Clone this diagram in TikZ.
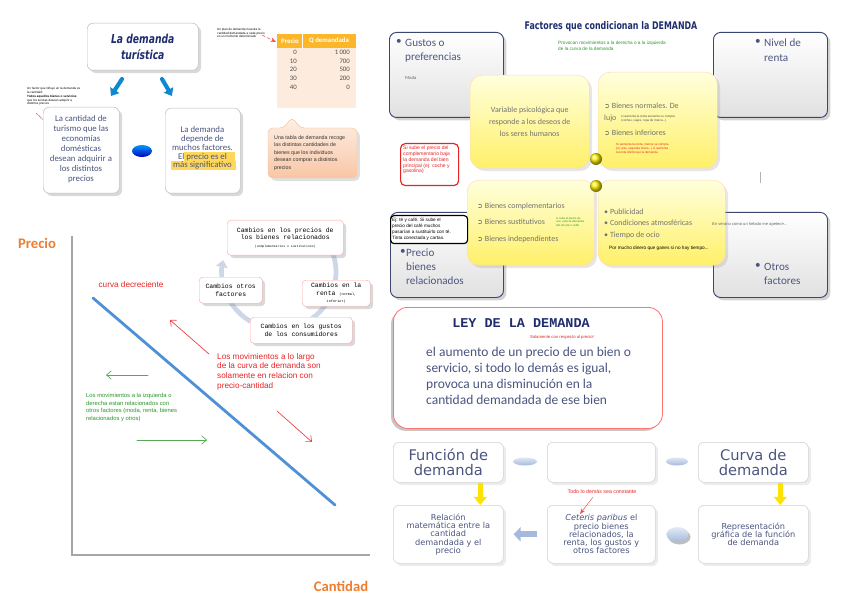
\documentclass[tikz,border=0pt]{standalone}
\usepackage{fontspec}
\setmainfont{Carlito}
\newfontfamily\arialf{Liberation Sans}
\newfontfamily\monof{Liberation Mono}
\newfontfamily\dejaf{DejaVu Sans}
\usepackage{tkz-euclide}
\usetikzlibrary{arrows.meta,shadows,positioning}

\newcommand\fsz[2]{\fontsize{#1}{#2}\selectfont}
\newcommand\arrbul{{\dejaf\fsz{6}{7}➲}}

\definecolor{navyt}{RGB}{31,45,110}
\definecolor{slate}{RGB}{75,85,128}
\definecolor{orangeT}{RGB}{237,125,49}
\definecolor{curveblue}{RGB}{79,145,214}
\definecolor{redT}{RGB}{232,35,35}
\definecolor{greenT}{RGB}{40,150,40}
\definecolor{tabhead}{RGB}{251,183,40}
\definecolor{tabbody}{RGB}{253,236,222}
\definecolor{peachtop}{RGB}{253,240,230}
\definecolor{peachbot}{RGB}{249,198,165}
\definecolor{yeltop}{RGB}{255,255,220}
\definecolor{yelbot}{RGB}{255,240,105}
\definecolor{ringc}{RGB}{205,215,232}
\definecolor{pillc}{RGB}{165,185,220}
\definecolor{boxedge}{RGB}{60,70,115}
\definecolor{hlyel}{RGB}{255,215,90}

\tikzset{
	boxsize/.style 2 args={minimum width=#1*0.03cm,minimum height=#2*0.03cm},
	wbox/.style={draw=gray!55,rounded corners=5pt,fill=white,anchor=north west,inner sep=0pt,drop shadow={opacity=.3}},
	cycbox/.style={draw=red!35,rounded corners=3pt,fill=white,anchor=north west,inner sep=0pt,drop shadow={opacity=.3}},
	fbox/.style={draw=boxedge,line width=.8pt,rounded corners=6pt,top color=white,bottom color=black!12,anchor=north west,inner sep=0pt,drop shadow={opacity=.35}},
	ybox/.style={draw=orange!30,line width=.4pt,rounded corners=10pt,top color=yeltop,bottom color=yelbot,anchor=north west,inner sep=0pt,drop shadow={opacity=.2}},
	bbox/.style={draw=gray!35,line width=.5pt,rounded corners=5pt,fill=white,anchor=north west,inner sep=0pt,drop shadow={opacity=.15}},
	bultxt/.style={font=\fsz{9.5}{12},text=slate,anchor=north west,align=left,inner sep=0pt},
	ytxt/.style={font=\fsz{6.8}{10},text=black!55,inner sep=0pt},
	redarr/.style={draw=redT!85,line width=.6pt,-{Straight Barb[length=4pt,width=7pt]}},
	greenarr/.style={draw=greenT!80,line width=.6pt,-{Straight Barb[length=4pt,width=7pt]}},
	redthin/.style={draw=redT!80,line width=.4pt,->,>=Stealth},
	bluearr/.style={draw=cyan!70!blue,line width=3.5pt,-{Triangle[width=9pt,length=6pt]}},
	yelarr/.style={draw=yellow!85!orange,line width=4.5pt,-{Triangle[width=11pt,length=7pt]}},
	gaparr/.style={draw=pillc,line width=5pt,-{Triangle[width=12pt,length=6pt]}}
}

\begin{document}
\begin{tikzpicture}[x=0.03cm,y=-0.03cm]
	\useasboundingbox (0,0) rectangle (848,599);

	\node[wbox,boxsize={111}{47}] (turbox) at (87,23) {};
	\node[font=\dejaf\bfseries\itshape\fsz{10.5}{14},text=navyt,align=center,xscale=.75] (turtxt) at (turbox.center) {La demanda\\turística};

	\tkzDefPoint(122,79){ba1s} \tkzDefPoint(111,96){ba1e}
	\tkzDefPoint(162,79){ba2s} \tkzDefPoint(172,96){ba2e}
	\tkzDrawSegments[bluearr](ba1s,ba1e ba2s,ba2e)

	\node[anchor=north west,font=\arialf\fsz{2.6}{3.3},align=left,inner sep=0] (nota1) at (27,87) {Un factor que influye en la demanda es\\la cantidad:\\\textbf{Todos aquellos bienes o servicios}\\que los turistas desean adquirir a\\distintos precios};
	\tkzDefPoint(36,113){ra0s} \tkzDefPoint(52,128){ra0e}
	\tkzDrawSegment[redthin](ra0s,ra0e)

	\node[wbox,boxsize={76}{86}] (cantbox) at (43,107) {};
	\node[font=\fsz{7.5}{8.6},text=slate,align=center] (canttxt) at (81,149) {La cantidad de\\turismo que las\\economías\\domésticas\\desean adquirir a\\los distintos\\precios};

	\shade[top color=cyan!60!blue,bottom color=blue!75!black] (142,151) ellipse [x radius=10,y radius=6];

	\node[wbox,boxsize={75}{85}] (depbox) at (165,108) {};
	\fill[hlyel] (184,152.5) rectangle (235,161.3);
	\fill[hlyel] (171,161.3) rectangle (236,170.5);
	\node[font=\fsz{7.5}{7.55},text=slate,align=center] (deptxt) at (202.5,148) {La demanda\\depende de\\muchos factores.\\El precio es el\\más significativo};

	\node[anchor=north west,fill=tabhead,inner sep=0,boxsize={79}{14}] (tabhd) at (277,34) {};
	\node[anchor=north west,fill=tabbody,inner sep=0,boxsize={79}{60}] (tabbd) at (277,48) {};
	\draw[white,line width=.6pt] (tabhd.north west) ++(25,0) -- ++(0,14);
	\node[font=\bfseries\fsz{5.8}{7},text=white] (thp) at (290,41) {Precio};
	\node[font=\bfseries\fsz{5.8}{7},text=white] (thq) at (329,41) {Q demandada};
	\foreach \p/\q [count=\i] in {0/1\,000,10/700,20/500,30/200,40/0}{
		\node[font=\fsz{5.8}{7},text=black!70,anchor=east] (pr\i) at (301,44+8.6*\i) {\p};
		\node[font=\fsz{5.8}{7},text=black!70,anchor=east] (qd\i) at (354,44+8.6*\i) {\q};
	}

	\node[anchor=north west,font=\arialf\fsz{2.6}{3.1},align=left,inner sep=0] (nota2) at (217,28) {Un plan de demanda muestra la\\cantidad demandada a cada precio\\en un momento determinado};
	\tkzDefPoint(262,35){ra1s} \tkzDefPoint(276,42){ra1e}
	\tkzDrawSegment[redthin,densely dashed](ra1s,ra1e)

	\path[draw=peachbot!90!orange,top color=peachtop,bottom color=peachbot,rounded corners=4pt,drop shadow={opacity=.25}] (268,128) -- (284,128) -- (292,117) -- (300,128) -- (357,128) -- (357,178) -- (268,178) -- cycle;
	\node[anchor=north west,font=\arialf\fsz{4.5}{6.4},align=left,text=black!80,inner sep=0] (calltxt) at (274,135) {Una tabla de demanda recoge\\las distintas cantidades de\\bienes que los individuos\\desean comprar a distintos\\precios};

	\tkzDefPoint(72,236){Ytop} \tkzDefPoint(72,555){Orig} \tkzDefPoint(370,555){Xend}
	\draw[draw=gray!70,line width=1.3pt] (Ytop) -- (Orig) -- (Xend);
	\tkzDefPoint(93,298){Cs} \tkzDefPoint(335,505){Ce}
	\tkzDrawSegment[draw=curveblue,line width=2.4pt](Cs,Ce)

	\node[font=\bfseries\fsz{12.5}{14},text=orangeT] (lblP) at (37,243) {Precio};
	\node[font=\bfseries\fsz{12.5}{14},text=orangeT] (lblQ) at (341,586) {Cantidad};
	\node[font=\arialf\fsz{7}{8},text=redT] (lblcd) at (131,285) {curva decreciente};
	\node[anchor=north west,font=\arialf\fsz{7}{8.3},text=redT,align=left,inner sep=0] (movtxt) at (217,353) {Los movimientos a lo largo\\de la curva de demanda son\\solamente en relacion con\\precio-cantidad};
	\node[anchor=north west,font=\arialf\fsz{5}{6.6},text=greenT,align=left,inner sep=0] (despltxt) at (86,393) {Los movimientos a la izquierda o\\derecha estan relacionados con\\otros factores (moda, renta, bienes\\relacionados y otros)};

	\tkzDefPoint(209,354){R1s} \tkzDefPoint(170,320){R1e}
	\tkzDefPoint(277,411){R2s} \tkzDefPoint(312,442){R2e}
	\tkzDefPoint(148,375){G1s} \tkzDefPoint(106,375){G1e}
	\tkzDefPoint(137,440){G2s} \tkzDefPoint(207,440){G2e}
	\tkzDrawSegments[redarr](R1s,R1e R2s,R2e)
	\tkzDrawSegments[greenarr](G1s,G1e G2s,G2e)

	\coordinate (cyc) at (279,272);
	\draw[draw=ringc,line width=4pt,-{Triangle[width=10pt,length=6pt]}] (cyc) ++(-25:57) arc[start angle=-25,end angle=192,radius=57];
	\node[cycbox,boxsize={116}{35}] (cbrel) at (227,220) {};
	\node[font=\monof\fsz{5.5}{6.6},align=center] (cbreltxt) at (cbrel.center) {Cambios en los precios de\\los bienes relacionados\\{\fsz{2.7}{3.5}(complementarios o sustitutivos)}};
	\node[cycbox,boxsize={68}{26}] (cbren) at (302,280) {};
	\node[font=\monof\fsz{5.5}{6.4},align=center] (cbrentxt) at (cbren.center) {Cambios en la\\renta {\fsz{3}{4}(normal,}\\{\fsz{3}{4}inferior)}};
	\node[cycbox,boxsize={102}{26}] (cbgus) at (250,317) {};
	\node[font=\monof\fsz{5.5}{6.8},align=center] (cbgustxt) at (cbgus.center) {Cambios en los gustos\\de los consumidores};
	\node[cycbox,boxsize={63}{26}] (cbotr) at (199,277) {};
	\node[font=\monof\fsz{5.5}{6.8},align=center] (cbotrtxt) at (cbotr.center) {Cambios otros\\factores};

	\node[font=\dejaf\bfseries\fsz{9}{11},text=navyt,xscale=.75] (factit) at (611,27) {Factores que condicionan la DEMANDA};
	\node[anchor=north west,font=\arialf\fsz{4}{4.8},text=greenT,align=left,inner sep=0] (facsub) at (558,41) {Provocan movimientos a la derecha o a la izquierda\\de la curva de la demanda};

	\node[fbox,boxsize={114}{85}] (gusbox) at (389,32) {};
	\node[fbox,boxsize={114}{85}] (renbox) at (713,32) {};
	\node[fbox,boxsize={113}{85}] (prebox) at (390,212) {};
	\node[fbox,boxsize={114}{85}] (otrbox) at (713,212) {};

	\node[bultxt] (gusb) at (396,39) {\textbullet};
	\node[bultxt] (gust) at (405,39) {Gustos o\\preferencias};
	\node[font=\fsz{4}{5},text=black!60,anchor=north west,inner sep=0] (gusm) at (405,76) {Moda};
	\node[bultxt] (renb) at (755,39) {\textbullet};
	\node[bultxt] (rent) at (764,39) {Nivel de\\renta};
	\node[bultxt,font=\fsz{9.5}{11.6}] (preb) at (400,249) {\textbullet};
	\node[bultxt,font=\fsz{9.5}{11.6}] (pret) at (406,249) {Precio\\bienes\\relacionados};
	\node[bultxt] (otrb) at (755,263) {\textbullet};
	\node[bultxt] (otrt) at (764,263) {Otros\\factores};

	\node[ybox,boxsize={119}{93}] (psibox) at (470,75) {};
	\node[ybox,boxsize={119}{96}] (nivbox) at (598,72) {};
	\node[ybox,boxsize={127}{85}] (relbox) at (467,180) {};
	\node[ybox,boxsize={127}{85}] (otbox) at (598,180) {};
	\node[circle,inner sep=0,minimum size=12*0.03cm,ball color=yellow!90!orange] (knot1) at (596,159) {};
	\node[circle,inner sep=0,minimum size=12*0.03cm,ball color=yellow!90!orange] (knot2) at (596,186) {};

	\node[ytxt,align=center] (psitxt) at (psibox.center) {Variable psicológica que\\responde a los deseos de\\los seres humanos};

	\node[ytxt,anchor=west] (nor1) at (604,106) {\arrbul\ Bienes normales. De};
	\node[ytxt,anchor=west] (nor2) at (604,118) {lujo};
	\node[anchor=west,font=\arialf\fsz{2.6}{3.1},align=left,text=black!70,inner sep=0] (nortiny) at (621,119) {si aumenta la renta aumenta su compra\\(coches, viajes, ropa de marca...)};
	\node[ytxt,anchor=west] (inf1) at (604,133) {\arrbul\ Bienes inferiores};
	\node[anchor=north west,font=\arialf\fsz{2.6}{3.3},align=left,text=redT,inner sep=0] (inftiny) at (616,143) {Si aumenta la renta, menos se compra\\(ej: pan, segunda mano...) si aumenta\\la renta disminuye la demanda};

	\node[ytxt,anchor=west] (comp) at (477,206) {\arrbul\ Bienes complementarios};
	\node[ytxt,anchor=west] (sust) at (477,222) {\arrbul\ Bienes sustitutivos};
	\node[anchor=west,font=\arialf\fsz{2.4}{2.9},align=left,text=greenT,inner sep=0] (susttiny) at (556,222) {si sube el precio de\\uno, sube la demanda\\del otro (té o café)};
	\node[ytxt,anchor=west] (indep) at (477,239) {\arrbul\ Bienes independientes};

	\node[ytxt,anchor=west] (pub) at (604,212) {\textbullet\ Publicidad};
	\node[ytxt,anchor=west] (atm) at (604,223) {\textbullet\ Condiciones atmosféricas};
	\node[ytxt,anchor=west] (ocio) at (604,235) {\textbullet\ Tiempo de ocio};
	\node[anchor=west,font=\arialf\fsz{4}{5},inner sep=0] (ociotiny) at (609,248) {Por mucho dinero que ganes si no hay tiempo...};
	\node[anchor=west,font=\arialf\fsz{3.5}{4},text=black!60,inner sep=0] (atmtiny) at (712,224) {En verano como un helado me apetece...};

	\node[anchor=north west,draw=redT,line width=1pt,rounded corners=4pt,fill=white,inner sep=0,boxsize={58}{42}] (compbox) at (400,143) {};
	\node[anchor=north west,font=\arialf\fsz{4.3}{4.9},text=redT,align=left,inner sep=0] (comptxt) at (403,146) {Si sube el precio del\\complementario baja\\la demanda del bien\\principal (ej: coche y\\gasolina)};

	\node[anchor=north west,draw=black,line width=1pt,rounded corners=3pt,fill=white,inner sep=0,boxsize={77}{28}] (sustbox) at (390,215) {};
	\node[anchor=north west,font=\arialf\fsz{4}{5},align=left,inner sep=0] (susttxt) at (392,218) {Ej: té y café. Si sube el\\precio del café muchos\\pasarían a sustituirlo con té.\\Tinta conectada y cartas.};

	\draw[gray!60,line width=.6pt] (knot2) ++(164,-14) -- ++(0,11);

	\node[anchor=north west,draw=red!55,line width=.7pt,rounded corners=12pt,fill=white,inner sep=0,boxsize={269}{121},drop shadow={opacity=.45,shadow xshift=-2pt,shadow yshift=-2pt}] (leybox) at (393,307) {};
	\node[font=\monof\bfseries\fsz{11.5}{13},text=navyt] (leytit) at (521,323) {LEY DE LA DEMANDA};
	\node[font=\arialf\fsz{3.6}{4},text=redT] (leynota) at (562,337) {Solamente con respecto al precio!};
	\node[anchor=north west,font=\fsz{11.5}{13.6},text=slate,align=left,inner sep=0] (leytxt) at (426,347) {el aumento de un precio de un bien o\\servicio, si todo lo demás es igual,\\provoca una disminución en la\\cantidad demandada de ese bien};

	\node[bbox,boxsize={110}{40}] (fdem) at (393,442) {};
	\node[bbox,boxsize={108}{40}] (mid) at (547,442) {};
	\node[bbox,boxsize={110}{40}] (cdem) at (698,442) {};
	\node[bbox,boxsize={110}{58}] (rel) at (393,505) {};
	\node[bbox,boxsize={108}{58}] (cet) at (547,505) {};
	\node[bbox,boxsize={110}{58}] (rep) at (698,505) {};

	\node[font=\dejaf\fsz{12.5}{12.8},text=slate,align=center] (fdemtxt) at (fdem.center) {Función de\\demanda};
	\node[font=\dejaf\fsz{12.5}{12.8},text=slate,align=center] (cdemtxt) at (cdem.center) {Curva de\\demanda};
	\node[font=\dejaf\fsz{7}{7.1},text=slate,align=center] (reltxt) at (rel.center) {Relación\\matemática entre la\\cantidad\\demandada y el\\precio};
	\node[font=\dejaf\fsz{7}{7.1},text=slate,align=center] (cettxt) at (cet.center) {\textit{Ceteris paribus} el\\precio bienes\\relacionados, la\\renta, los gustos y\\otros factores};
	\node[font=\dejaf\fsz{7}{7.1},text=slate,align=center] (reptxt) at (rep.center) {Representación\\gráfica de la función\\de demanda};

	\shade[top color=pillc!35,bottom color=pillc] (525,461.5) ellipse [x radius=12,y radius=4];
	\shade[top color=pillc!35,bottom color=pillc] (677,461.5) ellipse [x radius=11,y radius=4];
	\fill[black!25] (679.5,537) ellipse [x radius=11,y radius=7.5];
	\shade[top color=pillc!30,bottom color=pillc] (677.5,534.5) ellipse [x radius=11,y radius=7.5];

	\draw[yelarr] ([xshift=0.96cm]fdem.south) -- ([xshift=0.96cm]rel.north);
	\draw[yelarr] ([xshift=0.81cm]cdem.south) -- ([xshift=0.81cm]rep.north);
	\draw[gaparr] ([xshift=-0.3cm]cet.west) -- ([xshift=0.3cm]rel.east);

	\node[font=\arialf\fsz{4.5}{5},text=redT] (todo) at (602,492) {Todo lo demás sea constante};
	\tkzDefPoint(593,497){ra2s} \tkzDefPoint(580,514){ra2e}
	\tkzDrawSegment[redthin](ra2s,ra2e)
\end{tikzpicture}
\end{document}
